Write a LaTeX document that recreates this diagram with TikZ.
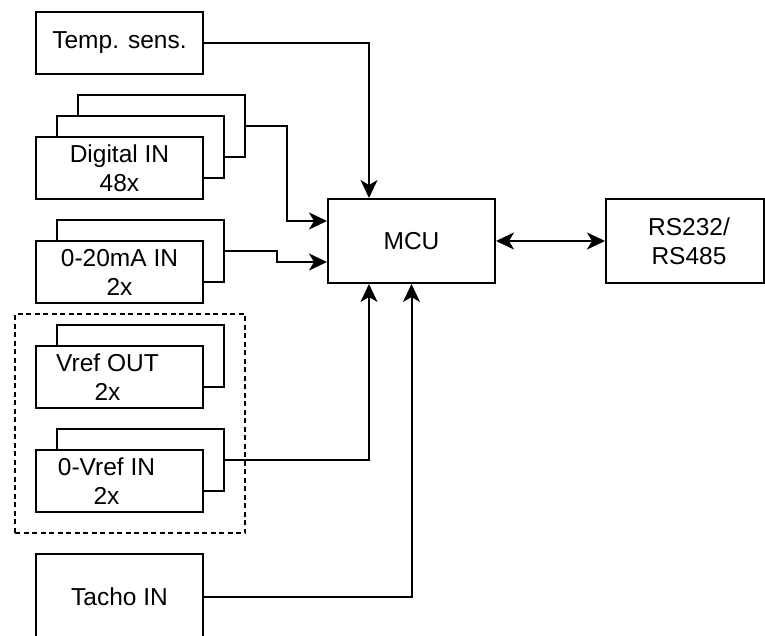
\documentclass[tikz,border=0pt]{standalone}
\usepackage{fontspec}
\setmainfont{Liberation Sans}
\usetikzlibrary{arrows.meta}
\begin{document}
\begin{tikzpicture}[x=1pt,y=-1pt,
  box/.style={draw, line width=2pt, fill=white, minimum width=167pt,
    minimum height=62pt, inner sep=0pt, align=center,
    font=\fontsize{24.5}{29}\selectfont},
  wire/.style={line width=2pt},
  tip/.tip={Stealth[length=18pt,width=17pt,inset=5pt]},
  arr/.style={wire, -tip},
  biarr/.style={wire, tip-tip},
  group/.style={draw, line width=2pt, dash pattern=on 5pt off 3.5pt,
    minimum width=230pt, minimum height=219pt, inner sep=0pt}
]
\useasboundingbox (0,0) rectangle (765,635);
\clip (0,0) rectangle (765,635);

% grouping frame around the reference channels
\node[group] (grp) at (130,423.5) {};

% single blocks
\node[box] (temp) at (119.5,43) {Temp. sens.};
\node[box, minimum height=86pt] (tacho) at (119.5,597) {Tacho IN};
\node[box, minimum height=84pt] (mcu) at (411.5,241) {MCU};
\node[box, minimum width=158pt, minimum height=84pt] (rs) at (685,241) {};
\node[font=\fontsize{24.5}{29}\selectfont, align=center] (rst) at (689,241) {RS232/\\RS485};

% stacked digital inputs (drawn back to front)
\node[box] (dig3) at (161.5,126) {};
\node[box] (dig2) at (140.5,147) {};
\node[box] (dig1) at (119.5,168) {Digital IN\\48x};

% analogue current inputs
\node[box] (ma2) at (140.5,251) {};
\node[box] (ma1) at (119.5,272) {0-20mA IN\\2x};

% reference outputs
\node[box] (vout2) at (140.5,356) {};
\node[box] (vout1) at (119.5,377) {};
\node[font=\fontsize{24.5}{29}\selectfont, align=center] (voutt) at (107.5,377) {Vref OUT\\2x};

% reference-scaled inputs
\node[box] (vin2) at (140.5,460) {};
\node[box] (vin1) at (119.5,481) {};
\node[font=\fontsize{24.5}{29}\selectfont, align=center] (vint) at (106.5,481) {0-Vref IN\\2x};

% connections into the MCU
\draw[arr] (temp.east) -| ([xshift=-42.5pt]mcu.north);
\draw[arr] (dig3.east) -- ++(41,0) |- ([yshift=20pt]mcu.west);
\draw[arr] (ma2.east) -- ++(52,0) |- ([yshift=-21pt]mcu.west);
\draw[arr] (vin2.east) -| ([xshift=-42.5pt]mcu.south);
\draw[arr] (tacho.east) -| (mcu.south);
\draw[biarr] (mcu.east) -- (rs.west);
\end{tikzpicture}
\end{document}
